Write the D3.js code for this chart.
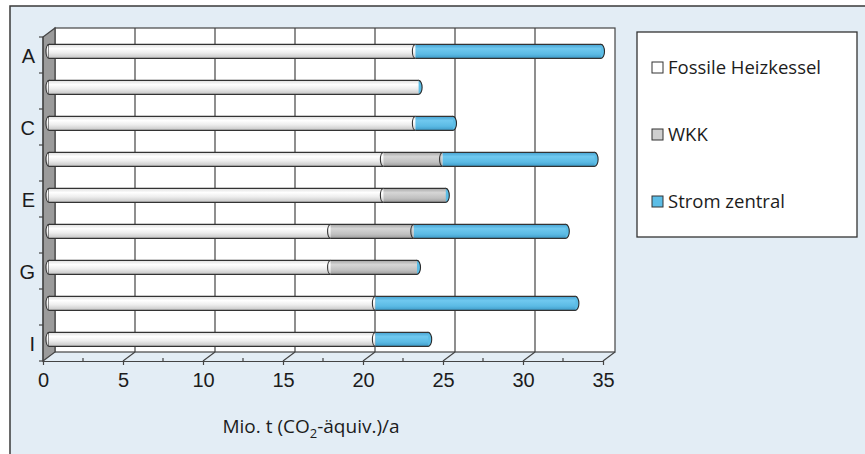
<!doctype html>
<html lang="de">
<head>
<meta charset="utf-8">
<title>CO2-Emissionen</title>
<style>
    body { margin: 0; background: #fff; font-family: "Open Sans", "Noto Sans", sans-serif; }
    text { fill: #1c1c1c; }
    .tick-label { font-size: 20px; }
    .legend-text { font-size: 18.5px; }
</style>
</head>
<body>
<script src="https://cdn.jsdelivr.net/npm/d3@7"></script>
<script>
    // data (Mio. t CO2-aequiv. per year)
    const categories = ['A', 'B', 'C', 'D', 'E', 'F', 'G', 'H', 'I'];
    const shownCategories = ['A', 'C', 'E', 'G', 'I'];
    const seriesNames = ['Fossile Heizkessel', 'WKK', 'Strom zentral'];
    const fossil = [22.9, 23.1, 22.9, 20.9, 20.9, 17.6, 17.6, 20.4, 20.4];
    const wkk = [0, 0, 0, 3.7, 3.9, 5.2, 5.4, 0, 0];
    const strom = [11.6, 0, 2.35, 9.5, 0, 9.5, 0, 12.5, 3.3];
    const xTicks = [0, 5, 10, 15, 20, 25, 30, 35];
    const xMinorTicks = [2.5, 7.5, 12.5, 17.5, 22.5, 27.5, 32.5];

    const width = 865, height = 454;
    const depthX = 12, depthY = -9;   // 3d offset of the back wall
    const barH = 14;

    const svg = d3.select('body').append('svg')
        .attr('width', width)
        .attr('height', height);

    const defs = svg.append('defs');
    const gradients = [
        ['grad-0', [[0, '#dedede'], [0.3, '#ffffff'], [0.6, '#ededed'], [1, '#c4c4c4']]],
        ['grad-1', [[0, '#a6a6a6'], [0.3, '#d6d6d6'], [0.7, '#c0c0c0'], [1, '#9c9c9c']]],
        ['grad-2', [[0, '#47a3d2'], [0.3, '#6fc8ef'], [0.7, '#5bbae4'], [1, '#3d9ac7']]]
    ];
    gradients.forEach(function (g) {
        let lg = defs.append('linearGradient').attr('id', g[0])
            .attr('x1', 0).attr('y1', 0).attr('x2', 0).attr('y2', 1);
        g[1].forEach(function (s) {
            lg.append('stop').attr('offset', s[0]).attr('stop-color', s[1]);
        });
    });
    const legendColors = ['#ffffff', '#cfcfcf', '#5cbde6'];

    // page background with frame
    svg.append('rect')
        .attr('x', 10).attr('y', 6)
        .attr('width', 900).attr('height', 500)
        .attr('fill', '#e3edf5')
        .attr('stroke', '#3a3a3a')
        .attr('stroke-width', 1.5);

    const x = d3.scaleLinear().domain([0, 35]).range([43, 603]);
    const y = d3.scaleBand().domain(categories).range([37, 361]);
    const yTop = y.range()[0], yBottom = y.range()[1];

    // back wall
    svg.append('rect')
        .attr('x', x(0) + depthX)
        .attr('y', yTop + depthY)
        .attr('width', x(35) - x(0))
        .attr('height', yBottom - yTop)
        .attr('fill', '#ffffff')
        .attr('stroke', '#444')
        .attr('stroke-width', 1.2);

    svg.append('g').selectAll('line')
        .data(xTicks.filter(t => t > 0 && t < 35))
        .enter().append('line')
        .attr('x1', d => x(d) + depthX).attr('x2', d => x(d) + depthX)
        .attr('y1', yTop + depthY).attr('y2', yBottom + depthY)
        .attr('stroke', '#444').attr('stroke-width', 1.2);

    // floor diagonals
    svg.append('g').selectAll('line')
        .data(xTicks.filter(t => t > 0))
        .enter().append('line')
        .attr('x1', d => x(d)).attr('x2', d => x(d) + depthX)
        .attr('y1', yBottom).attr('y2', yBottom + depthY)
        .attr('stroke', '#444').attr('stroke-width', 1.2);

    // side wall
    svg.append('polygon')
        .attr('points', [
            [x(0), yTop], [x(0) + depthX, yTop + depthY],
            [x(0) + depthX, yBottom + depthY], [x(0), yBottom]
        ].join(' '))
        .attr('fill', '#9b9b9b')
        .attr('stroke', '#444')
        .attr('stroke-width', 1.2);

    // x axis
    const xAxis = svg.append('g')
        .attr('transform', `translate(0,${yBottom})`)
        .call(d3.axisBottom(x).tickValues(xTicks).tickSize(4).tickPadding(8).tickSizeOuter(0));
    xAxis.select('.domain').attr('stroke', '#444').attr('stroke-width', 1.2);
    xAxis.selectAll('.tick line').attr('stroke', '#444').attr('stroke-width', 1.2);
    xAxis.selectAll('.tick text')
        .attr('class', 'tick-label')
        .attr('font-size', null)
        .attr('font-family', null)
        .attr('fill', '#1c1c1c');

    svg.append('g').selectAll('line')
        .data(xMinorTicks)
        .enter().append('line')
        .attr('x1', d => x(d)).attr('x2', d => x(d))
        .attr('y1', yBottom).attr('y2', yBottom - 3)
        .attr('stroke', '#444').attr('stroke-width', 1.2);

    // y axis: labels for every second category, ticks between categories
    const yAxis = svg.append('g')
        .attr('transform', `translate(${x(0)},0)`)
        .call(d3.axisLeft(y).tickSize(0).tickPadding(8)
            .tickFormat(d => shownCategories.includes(d) ? d : ''));
    yAxis.select('.domain').remove();
    yAxis.selectAll('.tick text')
        .attr('class', 'tick-label')
        .attr('font-size', null)
        .attr('font-family', null)
        .attr('dy', '0.4em')
        .attr('fill', '#1c1c1c');

    svg.append('g').selectAll('line')
        .data(categories.map(c => y(c)).concat([yBottom]))
        .enter().append('line')
        .attr('x1', x(0) - 4).attr('x2', x(0))
        .attr('y1', d => d).attr('y2', d => d)
        .attr('stroke', '#444').attr('stroke-width', 1.2);
    svg.append('line')
        .attr('x1', x(0)).attr('x2', x(0))
        .attr('y1', yTop).attr('y2', yBottom)
        .attr('stroke', '#444').attr('stroke-width', 1.2);

    // cylinders
    const table = categories.map((c, i) => ({ cat: c, s0: fossil[i], s1: wkk[i], s2: strom[i] }));
    const stacked = d3.stack().keys(['s0', 's1', 's2'])(table);
    const bx = v => x(v) + depthX / 2;
    const barCy = c => y(c) + y.bandwidth() / 2 + depthY * 0.4;

    const bars = svg.append('g').selectAll('g.bar')
        .data(table).enter().append('g').attr('class', 'bar');

    // rounded left end
    bars.append('path')
        .attr('d', d => {
            const cy = barCy(d.cat);
            return `M${bx(0)},${cy - barH / 2} A3,${barH / 2} 0 0 0 ${bx(0)},${cy + barH / 2} Z`;
        })
        .attr('fill', 'url(#grad-0)')
        .attr('stroke', '#333').attr('stroke-width', 1.1);

    stacked.forEach(function (layer, k) {
        const segs = layer.map((p, i) => ({ cat: categories[i], a: p[0], b: p[1] }))
            .filter(s => s.b - s.a > 0);
        const g = svg.append('g');
        g.selectAll('rect').data(segs).enter().append('rect')
            .attr('x', d => bx(d.a))
            .attr('y', d => barCy(d.cat) - barH / 2)
            .attr('width', d => bx(d.b) - bx(d.a))
            .attr('height', barH)
            .attr('fill', `url(#grad-${k})`);
        g.selectAll('path.edge').data(segs).enter().append('path')
            .attr('d', d => {
                const cy = barCy(d.cat);
                return `M${bx(d.a)},${cy - barH / 2}H${bx(d.b)}M${bx(d.a)},${cy + barH / 2}H${bx(d.b)}`;
            })
            .attr('stroke', '#333').attr('stroke-width', 1.2).attr('fill', 'none');
        if (k > 0) {
            g.selectAll('path.join').data(segs).enter().append('path')
                .attr('d', d => {
                    const cy = barCy(d.cat);
                    return `M${bx(d.a)},${cy - barH / 2} A3,${barH / 2} 0 0 0 ${bx(d.a)},${cy + barH / 2}`;
                })
                .attr('stroke', '#333').attr('stroke-width', 1.1).attr('fill', 'none');
        }
    });

    // end caps
    bars.append('ellipse')
        .attr('cx', d => bx(d.s0 + d.s1 + d.s2))
        .attr('cy', d => barCy(d.cat))
        .attr('rx', 3.5)
        .attr('ry', barH / 2)
        .attr('fill', '#5cbde6')
        .attr('stroke', '#2a2a2a').attr('stroke-width', 1.1);

    // axis title
    const title = svg.append('text')
        .attr('x', 311).attr('y', 433)
        .attr('text-anchor', 'middle')
        .attr('font-size', 19);
    title.append('tspan').text('Mio. t (CO');
    title.append('tspan').text('2').attr('font-size', 13).attr('dy', 5);
    title.append('tspan').text('-äquiv.)/a').attr('dy', -5);

    // legend
    const legend = svg.append('g');
    legend.append('rect')
        .attr('x', 637).attr('y', 32)
        .attr('width', 220).attr('height', 205)
        .attr('fill', '#fff')
        .attr('stroke', '#333').attr('stroke-width', 1.3);
    const items = legend.selectAll('g.item').data(seriesNames).enter()
        .append('g').attr('class', 'item')
        .attr('transform', (d, i) => `translate(652,${74 + i * 67})`);
    items.append('rect')
        .attr('x', 0).attr('y', -12)
        .attr('width', 11).attr('height', 11)
        .attr('fill', (d, i) => legendColors[i])
        .attr('stroke', '#333').attr('stroke-width', 1);
    items.append('text')
        .attr('class', 'legend-text')
        .attr('x', 16).attr('y', 0)
        .text(d => d);
</script>
</body>
</html>
